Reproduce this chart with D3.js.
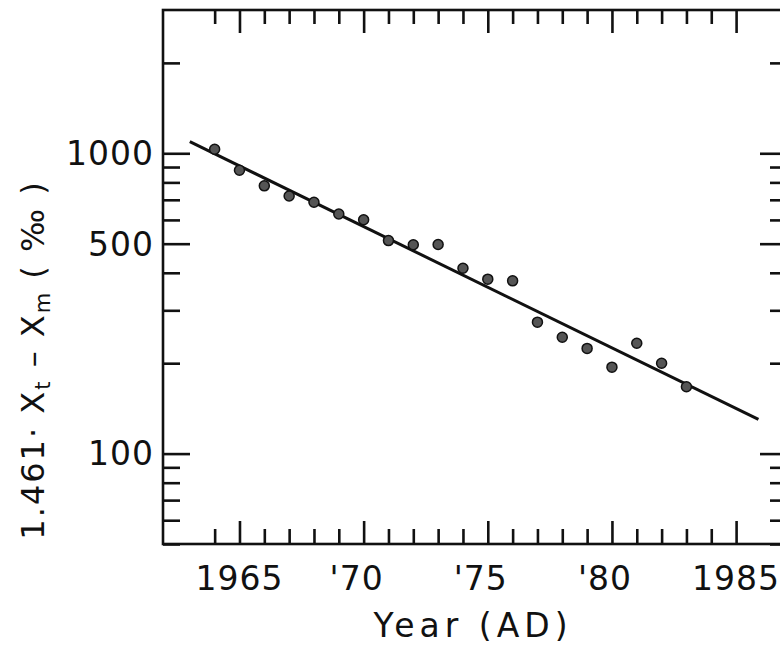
<!DOCTYPE html>
<html>
<head>
<meta charset="utf-8">
<style>
body { margin: 0; background: #fff; }
text { font-family: "DejaVu Sans", sans-serif; fill: #111; }
</style>
</head>
<body>
<script src="https://d3js.org/d3.v7.min.js"></script>
<script>
// window dimensions
var svgWidth = 780;
var svgHeight = 646;

// data, one point per year
var years  = [1964, 1965, 1966, 1967, 1968, 1969, 1970, 1971, 1972, 1973,
              1974, 1975, 1976, 1977, 1978, 1979, 1980, 1981, 1982, 1983];
var values = [1031, 878, 779, 721, 687, 628, 601, 512, 496, 497,
              414, 381, 376, 274, 244, 224, 194, 233, 200, 167];

// fitted line end points
var fitYears  = [1963, 1985.9];
var fitValues = [1093, 130];

// ticks
var xMinor  = d3.range(1964, 1986);
var xMajor  = [1965, 1970, 1975, 1980, 1985];
var xLabels = ["1965", "'70", "'75", "'80", "1985"];
var yTicks  = [50, 60, 70, 80, 90, 100, 200, 300, 400, 500, 600, 700, 800, 900, 1000, 2000];
var yMajor  = [100, 500, 1000];
var yLabels = ["100", "500", "1000"];

// plot frame (the right edge runs past the window)
var plotL = 163, plotR = 787, plotT = 10, plotB = 544;

var x = d3.scaleLinear().domain([1961.92, 1987.05]).range([plotL, plotR]);
var y = d3.scaleLog().domain([50, 3000]).range([plotB, plotT]);

var svg = d3.select('body').append('svg')
	.attr('width', svgWidth)
	.attr('height', svgHeight);

svg.append('rect').attr('width', svgWidth).attr('height', svgHeight).attr('fill', '#fff');

// tick axes (inward ticks on all four sides)
function styleTicks(g, isMajor, minorLen, majorLen, sign, attr) {
	g.select('.domain').remove();
	g.selectAll('line')
		.attr('stroke', '#111')
		.attr('stroke-width', 2.6)
		.attr(attr, function(d) { return sign * (isMajor(d) ? majorLen : minorLen); });
}
var isXMajor = function(d) { return xMajor.indexOf(d) >= 0; };
var isYMajor = function(d) { return yMajor.indexOf(d) >= 0; };

svg.append('g')
	.attr('transform', 'translate(0,' + plotT + ')')
	.call(d3.axisBottom(x).tickValues(xMinor).tickFormat('').tickSizeOuter(0))
	.call(styleTicks, isXMajor, 14, 23, 1, 'y2');

svg.append('g')
	.attr('transform', 'translate(0,' + plotB + ')')
	.call(d3.axisTop(x).tickValues(xMinor).tickFormat('').tickSizeOuter(0))
	.call(styleTicks, isXMajor, 15, 23, -1, 'y2');

svg.append('g')
	.attr('transform', 'translate(' + plotL + ',0)')
	.call(d3.axisRight(y).tickValues(yTicks).tickFormat('').tickSizeOuter(0))
	.call(styleTicks, isYMajor, 17, 27, 1, 'x2');

svg.append('g')
	.attr('transform', 'translate(' + plotR + ',0)')
	.call(d3.axisLeft(y).tickValues(yTicks).tickFormat('').tickSizeOuter(0))
	.call(styleTicks, isYMajor, 17, 27, -1, 'x2');

// frame
svg.append('rect')
	.attr('x', plotL).attr('y', plotT)
	.attr('width', plotR - plotL).attr('height', plotB - plotT)
	.attr('fill', 'none')
	.attr('stroke', '#111')
	.attr('stroke-width', 2.6);

// tick labels
svg.selectAll('.ylab')
	.data(yMajor)
	.enter().append('text')
	.attr('class', 'ylab')
	.attr('x', 154)
	.attr('y', function(d) { return y(d); })
	.attr('dy', '0.36em')
	.attr('text-anchor', 'end')
	.attr('font-size', 33)
	.attr('letter-spacing', 1)
	.text(function(d, i) { return yLabels[i]; });

svg.selectAll('.xlab')
	.data(xMajor)
	.enter().append('text')
	.attr('class', 'xlab')
	.attr('x', function(d, i) { return x(d) + (xLabels[i][0] == "'" ? -7 : 0); })
	.attr('y', 590)
	.attr('text-anchor', 'middle')
	.attr('font-size', 33)
	.attr('letter-spacing', 1)
	.text(function(d, i) { return xLabels[i]; });

// axis titles
svg.append('text')
	.attr('x', 473)
	.attr('y', 637)
	.attr('text-anchor', 'middle')
	.attr('font-size', 33)
	.attr('letter-spacing', 5)
	.text('Year (AD)');

var yt = svg.append('text')
	.attr('transform', 'translate(44,360) rotate(-90)')
	.attr('text-anchor', 'middle')
	.attr('font-size', 32)
	.attr('letter-spacing', 2);
yt.append('tspan').text('1.461· X');
yt.append('tspan').attr('font-size', 21).attr('dy', 6).text('t');
yt.append('tspan').attr('dy', -6).text(' – X');
yt.append('tspan').attr('font-size', 21).attr('dy', 6).text('m');
yt.append('tspan').attr('dy', -6).text(' ( ‰ )');

// fitted line
var line = d3.line()
	.x(function(d) { return x(d[0]); })
	.y(function(d) { return y(d[1]); });

svg.append('path')
	.datum(d3.zip(fitYears, fitValues))
	.attr('d', line)
	.attr('fill', 'none')
	.attr('stroke', '#111')
	.attr('stroke-width', 3);

// data points
svg.selectAll('circle')
	.data(d3.zip(years, values))
	.enter().append('circle')
	.attr('cx', function(d) { return x(d[0]); })
	.attr('cy', function(d) { return y(d[1]); })
	.attr('r', 5)
	.attr('fill', '#555')
	.attr('stroke', '#111')
	.attr('stroke-width', 1.5);
</script>
</body>
</html>
